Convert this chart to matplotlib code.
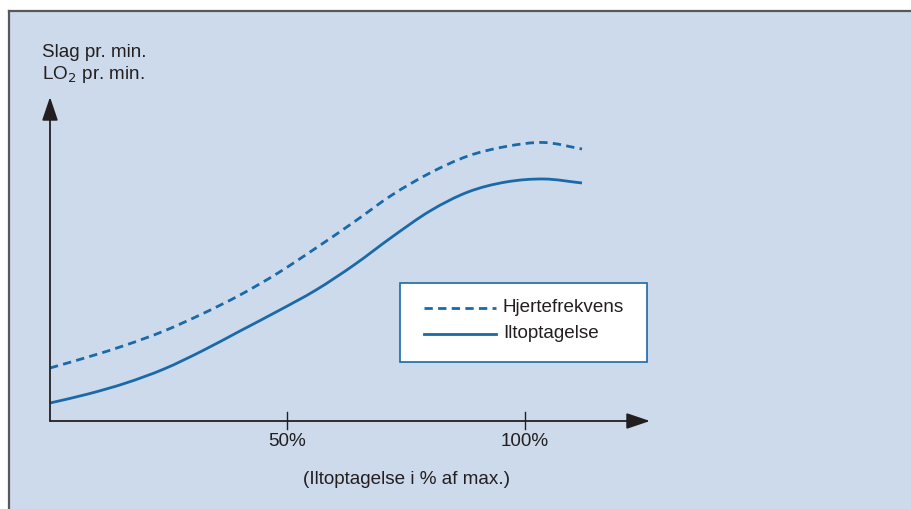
import matplotlib
matplotlib.use("Agg")
import matplotlib.pyplot as plt
import numpy as np
from matplotlib.patches import Rectangle, PathPatch
from matplotlib.path import Path
from matplotlib.lines import Line2D

plt.rcParams['font.family'] = ['Liberation Sans', 'DejaVu Sans']

# Data (x in % of max oxygen uptake, y in arbitrary units)
x_pct = [0, 8, 16, 24, 32, 40, 48, 56, 64, 72, 80, 88, 96, 104, 112]
hr_y = [53, 64, 76, 90, 107, 126, 148, 173, 199, 226, 248, 265, 274.5, 278.5, 272]
o2_y = [18, 27, 38, 52, 70, 90, 110, 131, 156, 184, 210, 229, 239, 242, 238]
x_ticks = [50, 100]
x_tick_labels = ["50%", "100%"]
series_labels = ["Hjertefrekvens", "Iltoptagelse"]

W, H = 912, 509
fig = plt.figure(figsize=(W / 100, H / 100), dpi=100)
fig.patch.set_facecolor("white")

# background panel with frame on top/left
bg = Rectangle((9 / W, 0), 1 - 9 / W, 1 - 11 / H, transform=fig.transFigure,
               facecolor="#cddaeb", edgecolor="none", zorder=-10)
fig.patches.append(bg)
fig.lines.append(Line2D([9 / W, 9 / W], [0, 1 - 11 / H], transform=fig.transFigure,
                        color="#58585a", lw=1.6, zorder=-5))
fig.lines.append(Line2D([9 / W, 1], [1 - 11 / H, 1 - 11 / H], transform=fig.transFigure,
                        color="#58585a", lw=1.6, zorder=-5))

ax = fig.add_axes([0, 0, 1, 1])
ax.set_facecolor("none")
px = 4.75  # pixels per % unit
ax.set_xlim(-50 / px, (W - 50) / px)
ax.set_ylim(421 - H, 421)
ax.axis("off")

blue = "#1a69a8"
dark = "#231f20"
FS = 13.6


def smooth_path(xs, ys):
    """Catmull-Rom curve through the data points, as cubic Bezier segments."""
    p = np.column_stack([xs, ys]).astype(float)
    verts = [tuple(p[0])]
    codes = [Path.MOVETO]
    n = len(p)
    for i in range(n - 1):
        p0 = p[i - 1] if i > 0 else 2 * p[i] - p[i + 1]
        p1, p2 = p[i], p[i + 1]
        p3 = p[i + 2] if i + 2 < n else 2 * p[i + 1] - p[i]
        c1 = p1 + (p2 - p0) / 6.0
        c2 = p2 - (p3 - p1) / 6.0
        verts += [tuple(c1), tuple(c2), tuple(p2)]
        codes += [Path.CURVE4] * 3
    return Path(verts, codes)


dash = (0, (3.0, 1.9))
ax.add_patch(PathPatch(smooth_path(x_pct, hr_y), facecolor="none", edgecolor=blue,
                       lw=2.0, ls=dash, capstyle="butt", zorder=3))
ax.add_patch(PathPatch(smooth_path(x_pct, o2_y), facecolor="none", edgecolor=blue,
                       lw=2.0, zorder=3))

# axes with arrows
ax.annotate("", xy=(0, 421 - 97), xytext=(0, 0),
            arrowprops=dict(arrowstyle="-|>,head_length=0.8,head_width=0.27",
                            mutation_scale=18, lw=1.3, color=dark, shrinkA=0, shrinkB=0))
ax.annotate("", xy=((650 - 50) / px, 0), xytext=(0, 0),
            arrowprops=dict(arrowstyle="-|>,head_length=0.8,head_width=0.27",
                            mutation_scale=18, lw=1.3, color=dark, shrinkA=0, shrinkB=0))

for t, lab in zip(x_ticks, x_tick_labels):
    ax.plot([t, t], [-8, 9], color=dark, lw=1.0)
    ax.text(t, 421 - 442, lab, ha="center", va="center", fontsize=FS, color=dark)

ax.text((407 - 50) / px, 421 - 479, "(Iltoptagelse i % af max.)", ha="center", va="center",
        fontsize=FS, color=dark)

ax.text((42 - 50) / px, 421 - 52, "Slag pr. min.", ha="left", va="center", fontsize=FS, color=dark)
ax.text((42 - 50) / px, 421 - 74, "LO$_2$ pr. min.", ha="left", va="center", fontsize=FS, color=dark)

# legend box
lx0, lx1 = (400 - 50) / px, (647 - 50) / px
ly0, ly1 = 421 - 362, 421 - 283
ax.add_patch(Rectangle((lx0, ly0), lx1 - lx0, ly1 - ly0, facecolor="white",
                       edgecolor=blue, lw=1.2, zorder=4))
ax.plot([(424 - 50) / px, (496 - 50) / px], [421 - 308, 421 - 308], color=blue, lw=2.0,
        ls=dash, dash_capstyle="butt", zorder=5)
ax.plot([(424 - 50) / px, (496 - 50) / px], [421 - 334, 421 - 334], color=blue, lw=2.0, zorder=5)
ax.text((503 - 50) / px, 421 - 307, series_labels[0], ha="left", va="center", fontsize=FS,
        color=dark, zorder=5)
ax.text((503 - 50) / px, 421 - 333, series_labels[1], ha="left", va="center", fontsize=FS,
        color=dark, zorder=5)

fig.savefig("out.png", dpi=100)
